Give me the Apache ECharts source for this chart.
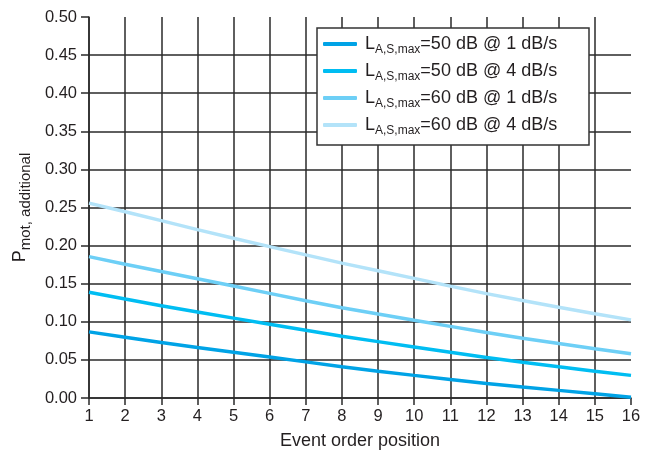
<!DOCTYPE html>
<html><head><meta charset="utf-8">
<script src="https://cdn.jsdelivr.net/npm/echarts@6/dist/echarts.min.js"></script>
<style>html,body{margin:0;padding:0;background:#fff}#c{width:645px;height:455px}</style>
</head><body><div id="c"></div>
<script>
const xPositions = [1,2,3,4,5,6,7,8,9,10,11,12,13,14,15,16];
const seriesLabels = ['=50 dB @ 1 dB/s', '=50 dB @ 4 dB/s', '=60 dB @ 1 dB/s', '=60 dB @ 4 dB/s'];
const seriesColors = ['#00a3e6', '#00bdf2', '#6dcff6', '#b3e3f9'];
const s50at1 = [0.0868,0.0798,0.0728,0.0662,0.0600,0.0538,0.0474,0.0410,0.0352,0.0297,0.0243,0.0191,0.0144,0.0100,0.0057,0.0010];
const s50at4 = [0.1387,0.1298,0.1211,0.1128,0.1048,0.0968,0.0888,0.0810,0.0740,0.0670,0.0600,0.0531,0.0470,0.0410,0.0352,0.0297];
const s60at1 = [0.1855,0.1755,0.1659,0.1565,0.1470,0.1373,0.1277,0.1185,0.1102,0.1020,0.0940,0.0860,0.0785,0.0714,0.0646,0.0580];
const s60at4 = [0.2557,0.2445,0.2328,0.2210,0.2096,0.1987,0.1878,0.1770,0.1670,0.1570,0.1468,0.1370,0.1280,0.1191,0.1106,0.1025];
const allSeries = [s50at1, s50at4, s60at1, s60at4];

const FONT = 'Liberation Sans';
const TXT = '#231f20';
const GRIDC = '#2a2a2a';

const chart = echarts.init(document.getElementById('c'), null, {renderer: 'canvas'});
chart.setOption({
  animation: false,
  backgroundColor: '#fff',
  grid: {left: 89, right: 14, top: 17, bottom: 56, containLabel: false},
  graphic: [{
    type: 'rect', z: 3, silent: true,
    shape: {x: 317, y: 28, width: 272, height: 117},
    style: {fill: '#fff', stroke: '#333', lineWidth: 1.5}
  }],
  legend: {
    left: 323, top: 35, orient: 'vertical', padding: 0, itemGap: 6,
    itemWidth: 34, itemHeight: 4, icon: 'roundRect', z: 5,
    data: seriesLabels.map((n, i) => ({name: n, itemStyle: {color: seriesColors[i]}})),
    formatter: n => '{L|L}{s|A,S,max}{t|' + n + '}',
    textStyle: {
      padding: [0, 0, 0, 3],
      rich: {
        L: {fontFamily: FONT, fontSize: 18, lineHeight: 18, color: TXT, verticalAlign: 'top'},
        t: {fontFamily: FONT, fontSize: 18, lineHeight: 18, color: TXT, verticalAlign: 'top'},
        s: {fontFamily: FONT, fontSize: 12, lineHeight: 12, color: TXT, verticalAlign: 'top', padding: [9, 0, 0, 0]}
      }
    }
  },
  xAxis: {
    type: 'value', min: 1, max: 16, interval: 1,
    name: 'Event order position', nameLocation: 'middle', nameGap: 34,
    nameTextStyle: {fontFamily: FONT, fontSize: 18, color: TXT},
    axisLine: {show: true, onZero: false, lineStyle: {color: GRIDC, width: 1.5}},
    axisTick: {show: true, length: 7, lineStyle: {color: GRIDC, width: 1.5}},
    axisLabel: {fontFamily: FONT, fontSize: 16.5, color: TXT, margin: 10},
    splitLine: {show: true, showMaxLine: false, lineStyle: {color: GRIDC, width: 1.5}}
  },
  yAxis: {
    type: 'value', min: 0, max: 0.5, interval: 0.05,
    name: '{P|P}{s|mot, additional}', nameLocation: 'middle', nameGap: 60,
    nameTextStyle: {
      rich: {
        P: {fontFamily: FONT, fontSize: 18, lineHeight: 18, color: TXT, verticalAlign: 'top'},
        s: {fontFamily: FONT, fontSize: 15, lineHeight: 15, color: TXT, verticalAlign: 'top', padding: [7, 0, 0, 0]}
      }
    },
    axisLine: {show: true, lineStyle: {color: GRIDC, width: 1.5}},
    axisTick: {show: true, length: 8, lineStyle: {color: GRIDC, width: 1.5}},
    axisLabel: {fontFamily: FONT, fontSize: 16.5, color: TXT, margin: 12, formatter: v => v.toFixed(2)},
    splitLine: {show: true, showMaxLine: false, lineStyle: {color: GRIDC, width: 1.5}}
  },
  series: allSeries.map((vals, i) => ({
    name: seriesLabels[i], type: 'line', z: 2,
    data: vals.map((v, k) => [xPositions[k], v]),
    smooth: false, showSymbol: false, symbol: 'none',
    lineStyle: {color: seriesColors[i], width: 3.5},
    itemStyle: {color: seriesColors[i]}
  }))
});
</script></body></html>
